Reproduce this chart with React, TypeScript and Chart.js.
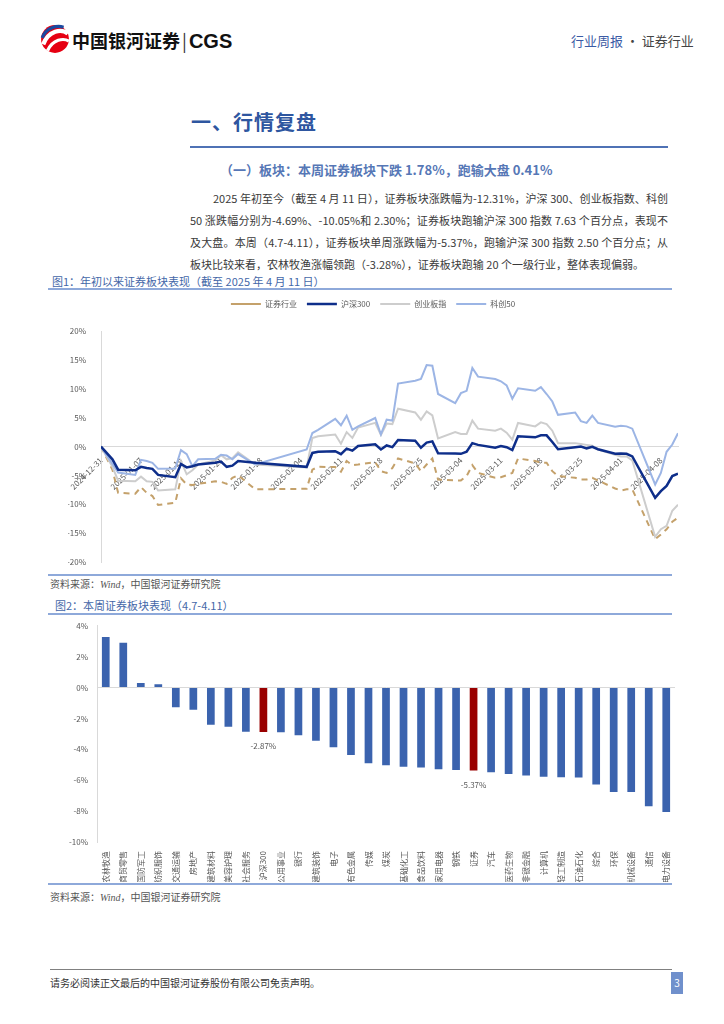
import React, { useEffect, useRef } from "react";
import { Chart, registerables } from "chart.js";
Chart.register(...registerables);

const FONT = "'Noto Sans CJK SC', 'Noto Sans', 'DejaVu Sans', sans-serif";
Chart.defaults.font.family = FONT;

// ---------- Figure 1 data ----------
const dates = [
  "2024-12-31",
  "2025-01-02", "2025-01-03", "2025-01-06", "2025-01-07", "2025-01-08", "2025-01-09", "2025-01-10",
  "2025-01-13", "2025-01-14", "2025-01-15", "2025-01-16", "2025-01-17", "2025-01-20", "2025-01-21",
  "2025-01-22", "2025-01-23", "2025-01-24", "2025-01-27",
  "2025-02-05", "2025-02-06", "2025-02-07", "2025-02-10", "2025-02-11", "2025-02-12", "2025-02-13",
  "2025-02-14", "2025-02-17", "2025-02-18", "2025-02-19", "2025-02-20", "2025-02-21", "2025-02-24",
  "2025-02-25", "2025-02-26", "2025-02-27", "2025-02-28",
  "2025-03-03", "2025-03-04", "2025-03-05", "2025-03-06", "2025-03-07", "2025-03-10", "2025-03-11",
  "2025-03-12", "2025-03-13", "2025-03-14", "2025-03-17", "2025-03-18", "2025-03-19", "2025-03-20",
  "2025-03-21", "2025-03-24", "2025-03-25", "2025-03-26", "2025-03-27", "2025-03-28", "2025-03-31",
  "2025-04-01", "2025-04-02", "2025-04-03", "2025-04-07", "2025-04-08", "2025-04-09", "2025-04-10",
  "2025-04-11",
];
const securitiesValues = [
  0, -4.0, -8.0, -8.15, -7.0, -8.0, -8.55, -10.1, -9.7, -5.5, -6.55, -6.65, -6.45, -6.0, -6.1, -6.45, -5.4, -4.95, -7.4,
  -7.3, -4.0, -3.5, -3.55, -4.35, -2.5, -3.2, -3.1, -2.7, -4.25, -4.55, -3.7, -2.05, -2.9, -4.25, -3.1, -2.05, -5.7,
  -5.85, -5.85, -5.1, -3.2, -4.55, -5.4, -5.3, -4.95, -4.55, -2.05, -2.5, -2.8, -2.8, -4.25, -5.1, -5.4, -5.7, -5.7, -5.4, -5.85, -7.25,
  -7.6, -7.4, -7.4, -16.0, -15.2, -14.3, -13.0, -12.31,
];
const hs300Values = [
  0, -2.2, -4.0, -4.1, -3.5, -3.7, -3.85, -4.9, -5.3, -3.0, -3.6, -3.4, -3.1, -2.8, -2.6, -3.5, -3.3, -2.5, -2.8,
  -3.5, -1.1, -0.9, -0.8, -1.3, -0.35, -0.7, 0.1, 0.4, -0.5, 0.2, -0.1, 1.15, 1.0, -0.2, 0.7, 0.9, -1.15,
  -1.2, -1.25, -0.9, 0.6, 0.3, -0.2, 0.1, -0.1, -0.6, 1.8, 1.6, 1.95, 1.95, 0.8, -0.45, -0.1, 0, -0.3, -0.05, -0.45, -1.25,
  -1.2, -1.25, -1.7, -8.85, -7.7, -6.8, -5.1, -4.69,
];
const chinextValues = [
  0, -3.5, -5.9, -6.0, -5.2, -6.0, -6.1, -7.6, -7.4, -2.5, -4.8, -4.1, -3.1, -2.4, -1.5, -2.2, -2.0, -1.0, -3.1,
  -3.6, 1.5, 1.8, 2.1, 0.5, 2.5, 1.5, 3.3, 4.1, 2.0, 4.0, 3.9, 6.55, 5.9, 4.65, 6.1, 5.4, 1.4,
  2.5, 2.2, 2.2, 4.5, 3.1, 2.75, 3.1, 2.4, 1.2, 4.1, 3.5, 4.2, 3.9, 2.75, 0.6, 0.6, 0.45, 0.3, 0.15, -0.5, -1.4,
  -1.7, -1.7, -2.4, -15.6, -14.3, -13.7, -11.1, -10.05,
];
const star50Values = [
  0, -3.0, -4.5, -4.9, -2.3, -2.5, -2.8, -3.85, -3.8, -0.6, -1.3, -3.4, -2.2, -2.1, -1.4, -1.55, -2.2, -1.3, -3.1,
  -0.5, 2.35, 2.9, 4.8, 3.7, 5.35, 2.9, 3.5, 4.95, 2.1, 4.65, 4.5, 10.9, 11.4, 11.7, 14.1, 14.0, 9.1,
  7.5, 9.25, 9.65, 13.6, 12.1, 11.7, 11.3, 10.6, 8.3, 10.1, 9.65, 10.3, 9.1, 7.8, 5.5, 5.9, 4.4, 4.1, 5.35, 4.1, 3.45,
  3.6, 3.5, 3.1, -6.55, -4.55, -0.9, 0.35, 2.3,
];
const seriesNames = ["证券行业", "沪深300", "创业板指", "科创50"];

// ---------- Figure 2 data ----------
const sectorLabels = [
  "农林牧渔", "商贸零售", "国防军工", "纺织服饰", "交通运输", "房地产", "建筑材料", "美容护理", "社会服务",
  "沪深300", "公用事业", "银行", "建筑装饰", "电子", "有色金属", "传媒", "煤炭", "基础化工", "食品饮料",
  "家用电器", "钢铁", "证券", "汽车", "医药生物", "非银金融", "计算机", "轻工制造", "石油石化", "综合",
  "环保", "机械设备", "通信", "电力设备",
];
const sectorValues = [
  3.28, 2.9, 0.3, 0.22, -1.27, -1.44, -2.41, -2.54, -2.86, -2.87, -2.9, -3.08, -3.44, -3.87, -4.37, -4.9,
  -5.03, -5.12, -5.18, -5.29, -5.33, -5.37, -5.48, -5.59, -5.7, -5.78, -5.81, -5.83, -6.28, -6.77, -6.77,
  -7.68, -8.06,
];
const highlightSectors = ["沪深300", "证券"];

const BASE = Date.UTC(2024, 11, 31);
const dayIndex = (s: string) => Math.round((Date.parse(s + "T00:00:00Z") - BASE) / 86400000);
const dayLabel = (d: number) => new Date(BASE + d * 86400000).toISOString().slice(0, 10);
const TICK = "#595959";
const AXIS = "#D9D9D9";

const legendGap = {
  id: "legendGap",
  beforeInit(chart: any) {
    const lg = chart.legend;
    if (!lg) return;
    const orig = lg.fit;
    lg.fit = function () {
      orig.call(lg);
      lg.height += 13;
    };
  },
};

function LineChart() {
  const ref = useRef<HTMLCanvasElement>(null);
  useEffect(() => {
    const mk = (vals: number[]) => dates.map((d, i) => ({ x: dayIndex(d), y: vals[i] }));
    const chart = new Chart(ref.current!, {
      type: "line",
      data: {
        datasets: [
          { label: seriesNames[0], data: mk(securitiesValues), borderColor: "#C4A16B", backgroundColor: "#C4A16B", borderWidth: 2, borderDash: [6, 5], order: 3 },
          { label: seriesNames[1], data: mk(hs300Values), borderColor: "#0E2E8A", backgroundColor: "#0E2E8A", borderWidth: 2.5, order: 0 },
          { label: seriesNames[2], data: mk(chinextValues), borderColor: "#CDCDCD", backgroundColor: "#CDCDCD", borderWidth: 2, order: 2 },
          { label: seriesNames[3], data: mk(star50Values), borderColor: "#9CB5E5", backgroundColor: "#9CB5E5", borderWidth: 2, order: 1 },
        ],
      },
      options: {
        animation: false,
        responsive: false,
        maintainAspectRatio: false,
        elements: { point: { radius: 0 }, line: { tension: 0 } },
        layout: { padding: { left: 28, right: 40, top: 0, bottom: 0 } },
        plugins: {
          tooltip: { enabled: false },
          legend: {
            position: "top",
            labels: {
              usePointStyle: true,
              pointStyle: "line",
              pointStyleWidth: 30,
              boxHeight: 8,
              padding: 10,
              color: TICK,
              font: { size: 8 },
              sort: (a: any, b: any) => a.datasetIndex - b.datasetIndex,
            },
          },
        },
        scales: {
          x: {
            type: "linear",
            min: 0,
            max: 101,
            position: { y: 0 } as any,
            grid: { display: false },
            border: { color: AXIS, width: 1 },
            ticks: {
              stepSize: 7,
              includeBounds: false,
              autoSkip: false,
              minRotation: 45,
              maxRotation: 45,
              padding: 1,
              color: TICK,
              font: { size: 8 },
              callback: (v: any) => dayLabel(Number(v)),
            },
          },
          y: {
            min: -20,
            max: 20,
            grid: { display: false },
            border: { color: AXIS, width: 1 },
            ticks: { stepSize: 5, color: TICK, font: { size: 8 }, padding: 7, callback: (v: any) => v + "%" },
            afterFit: (s: any) => { s.width = 33; },
          },
        },
      },
      plugins: [legendGap],
    });
    return () => chart.destroy();
  }, []);
  return <canvas ref={ref} width={678} height={284} style={{ position: "absolute", left: 40, top: 290, width: 678, height: 284 }} />;
}

function BarChart() {
  const ref = useRef<HTMLCanvasElement>(null);
  useEffect(() => {
    const labelPlugin = {
      id: "hlLabels",
      afterDatasetsDraw(chart: any) {
        const meta = chart.getDatasetMeta(0);
        const c = chart.ctx;
        c.save();
        c.font = `8px ${FONT}`;
        c.fillStyle = TICK;
        c.textAlign = "center";
        c.textBaseline = "middle";
        sectorLabels.forEach((l, i) => {
          if (!highlightSectors.includes(l)) return;
          const el = meta.data[i];
          c.fillText(sectorValues[i].toFixed(2) + "%", el.x, el.y + 14);
        });
        c.restore();
      },
    };
    const chart = new Chart(ref.current!, {
      type: "bar",
      data: {
        labels: sectorLabels,
        datasets: [
          {
            data: sectorValues,
            backgroundColor: sectorLabels.map((l) => (highlightSectors.includes(l) ? "#990000" : "#3B63AE")),
            barPercentage: 0.44,
            categoryPercentage: 1,
          },
        ],
      },
      options: {
        animation: false,
        responsive: false,
        maintainAspectRatio: false,
        layout: { padding: { left: 0, right: 5, top: 0, bottom: 0 } },
        plugins: { legend: { display: false }, tooltip: { enabled: false } },
        scales: {
          x: {
            grid: { display: false },
            border: { display: false },
            ticks: { autoSkip: false, minRotation: 90, maxRotation: 90, padding: 1, color: TICK, font: { size: 8 } },
            afterFit: (s: any) => { s.height = 40; },
          },
          y: {
            min: -10,
            max: 4,
            border: { color: AXIS, width: 1 },
            grid: { color: (c: any) => (c.tick && c.tick.value === 0 ? AXIS : "rgba(0,0,0,0)"), drawTicks: false },
            ticks: { stepSize: 2, color: TICK, font: { size: 8 }, padding: 9, callback: (v: any) => v + "%" },
            afterFit: (s: any) => { s.width = 57; },
          },
        },
      },
      plugins: [labelPlugin],
    });
    return () => chart.destroy();
  }, []);
  return <canvas ref={ref} width={640} height={270} style={{ position: "absolute", left: 40, top: 612, width: 640, height: 270 }} />;
}

const abs = (l: number, t: number, extra: React.CSSProperties = {}): React.CSSProperties => ({ position: "absolute", left: l, top: t, ...extra });

export default function App() {
  const para: React.CSSProperties = { fontSize: 11, color: "#3A3A3A", lineHeight: "22px", whiteSpace: "nowrap", textAlign: "justify", textAlignLast: "justify" as any, width: 478 };
  return (
    <div style={{ position: "absolute", left: 0, top: 0, width: 724, height: 1024, background: "#fff", fontFamily: FONT, overflow: "hidden" }}>
      {/* header */}
      <svg style={abs(40, 24)} width="30" height="30" viewBox="0 0 28 28">
        <circle cx="14" cy="14" r="13" fill="#E60012" />
        <path d="M3 19 C8 6 20 4 26 9" stroke="#fff" strokeWidth="4" fill="none" />
        <path d="M2 13 C6 3 16 1 22 3" stroke="#1B4AA0" strokeWidth="3" fill="none" />
        <path d="M7 25 C12 14 22 13 27 16" stroke="#fff" strokeWidth="3" fill="none" />
      </svg>
      <div style={abs(72, 27, { fontSize: 18, fontWeight: 700, color: "#111", letterSpacing: 0, lineHeight: "26px", whiteSpace: "nowrap" })}>
        中国银河证券<span style={{ fontWeight: 400, margin: "0 2px", color: "#333" }}>|</span><span style={{ fontFamily: "'Liberation Sans', Arial, sans-serif", fontSize: 20 }}>CGS</span>
      </div>
      <div style={abs(571, 32, { fontSize: 13, lineHeight: "18px", whiteSpace: "nowrap" })}>
        <span style={{ color: "#3B5BA5" }}>行业周报</span>
        <span style={{ color: "#444" }}> · 证券行业</span>
      </div>

      {/* section title */}
      <div style={abs(191, 108, { fontSize: 20, fontWeight: 700, color: "#2E56A0", lineHeight: "28px", letterSpacing: 1 })}>一、行情复盘</div>
      <div style={abs(190, 146, { width: 478, height: 2, background: "#4F72B5" })} />
      <div style={abs(220, 160, { fontSize: 13, fontWeight: 700, color: "#5677B6", lineHeight: "20px", whiteSpace: "nowrap" })}>
        （一）板块：本周证券板块下跌 1.78%，跑输大盘 0.41%
      </div>

      {/* paragraph */}
      <div style={abs(190, 187)}>
        <div style={{ ...para, width: 455, marginLeft: 23 }}>2025 年初至今（截至 4 月 11 日），证券板块涨跌幅为-12.31%，沪深 300、创业板指数、科创</div>
        <div style={para}>50 涨跌幅分别为-4.69%、-10.05%和 2.30%；证券板块跑输沪深 300 指数 7.63 个百分点，表现不</div>
        <div style={para}>及大盘。本周（4.7-4.11），证券板块单周涨跌幅为-5.37%，跑输沪深 300 指数 2.50 个百分点；从</div>
        <div style={{ ...para, textAlign: "left", textAlignLast: "left" as any }}>板块比较来看，农林牧渔涨幅领跑（-3.28%），证券板块跑输 20 个一级行业，整体表现偏弱。</div>
      </div>

      {/* figure 1 */}
      <div style={abs(52, 273, { fontSize: 11, color: "#4467A8", lineHeight: "16px", whiteSpace: "nowrap" })}>图1：年初以来证券板块表现（截至 2025 年 4 月 11 日）</div>
      <div style={abs(48, 288, { width: 624, height: 2, background: "#8EA9DA" })} />
      <LineChart />
      <div style={abs(48, 574, { width: 624, height: 2, background: "#8EA9DA" })} />
      <div style={abs(50, 577, { fontSize: 10, color: "#555", lineHeight: "14px", whiteSpace: "nowrap" })}>
        资料来源：<i style={{ fontFamily: "'Liberation Serif', serif" }}>Wind</i>，中国银河证券研究院
      </div>

      {/* figure 2 */}
      <div style={abs(55, 597, { fontSize: 11, color: "#4467A8", lineHeight: "16px", whiteSpace: "nowrap" })}>图2：本周证券板块表现（4.7-4.11）</div>
      <div style={abs(48, 613, { width: 624, height: 2, background: "#8EA9DA" })} />
      <BarChart />
      <div style={abs(48, 883, { width: 624, height: 2, background: "#8EA9DA" })} />
      <div style={abs(50, 890, { fontSize: 10, color: "#555", lineHeight: "14px", whiteSpace: "nowrap" })}>
        资料来源：<i style={{ fontFamily: "'Liberation Serif', serif" }}>Wind</i>，中国银河证券研究院
      </div>

      {/* footer */}
      <div style={abs(50, 969, { width: 622, height: 1, background: "#808080" })} />
      <div style={abs(50, 976, { fontSize: 10, color: "#333", lineHeight: "14px", whiteSpace: "nowrap" })}>请务必阅读正文最后的中国银河证券股份有限公司免责声明。</div>
      <div style={abs(671, 972, { width: 12, height: 22, background: "#7090CC", color: "#fff", fontSize: 10, lineHeight: "22px", textAlign: "center" })}>3</div>
    </div>
  );
}
